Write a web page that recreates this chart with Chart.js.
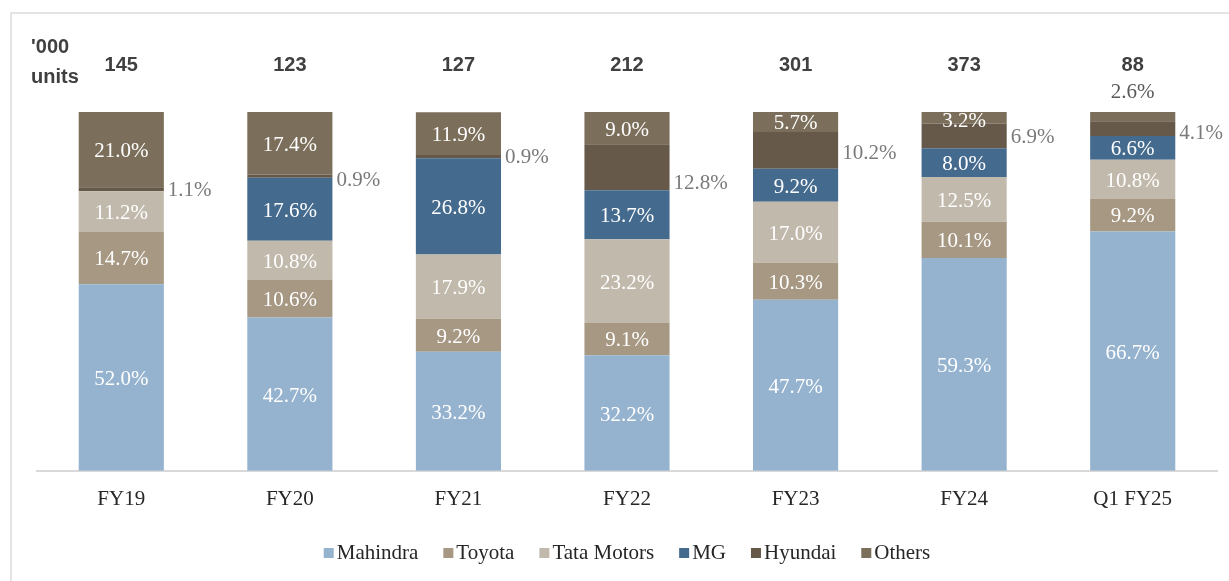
<!DOCTYPE html>
<html>
<head>
<meta charset="utf-8">
<script src="https://cdn.jsdelivr.net/npm/chart.js@4.4.1/dist/chart.umd.min.js"></script>
<style>
    html, body { margin: 0; padding: 0; background: #fff; }
    #wrap { position: relative; width: 1229px; height: 581px; }
    #frame { position: absolute; left: 10px; top: 12px; right: 0; bottom: 0;
             border-top: 2px solid #e4e4e4; border-left: 2px solid #e4e4e4; }
    canvas { position: absolute; left: 0; top: 0; }
</style>
</head>
<body>
<div id="wrap">
    <div id="frame"></div>
    <canvas id="shareChart" width="1229" height="581"></canvas>
</div>
<script>
// ---- Data ----
const periods = ['FY19', 'FY20', 'FY21', 'FY22', 'FY23', 'FY24', 'Q1 FY25'];
const totalUnits = [145, 123, 127, 212, 301, 373, 88];

const mahindra   = [52.0, 42.7, 33.2, 32.2, 47.7, 59.3, 66.7];
const toyota     = [14.7, 10.6,  9.2,  9.1, 10.3, 10.1,  9.2];
const tataMotors = [11.2, 10.8, 17.9, 23.2, 17.0, 12.5, 10.8];
const mg         = [ 0.0, 17.6, 26.8, 13.7,  9.2,  8.0,  6.6];
const hyundai    = [ 1.1,  0.9,  0.9, 12.8, 10.2,  6.9,  4.1];
const others     = [21.0, 17.4, 11.9,  9.0,  5.7,  3.2,  2.6];

const seriesNames = ['Mahindra', 'Toyota', 'Tata Motors', 'MG', 'Hyundai', 'Others'];
const seriesData = [mahindra, toyota, tataMotors, mg, hyundai, others];
const seriesColors = ['#95b3cf', '#a69883', '#c1b9ab', '#446a8e', '#665949', '#7b6e5b'];

// outside (Hyundai) labels were nudged by hand in the original
const hyundaiNudge = [1, 4, 1, 16, 3, 2, 5];

const SERIF = '"Liberation Serif", "DejaVu Serif", serif';
const SANS = '"Liberation Sans", Arial, sans-serif';

// ---- Labels / legend plugin ----
const labelPlugin = {
    id: 'shareLabels',
    afterDatasetsDraw(chart) {
        const ctx = chart.ctx;
        ctx.save();
        chart.data.datasets.forEach((ds, di) => {
            const meta = chart.getDatasetMeta(di);
            meta.data.forEach((bar, i) => {
                const v = ds.data[i];
                if (!v) return;
                const txt = v.toFixed(1) + '%';
                const mid = (bar.y + bar.base) / 2;
                ctx.font = '21px ' + SERIF;
                ctx.textBaseline = 'middle';
                if (ds.label === 'Hyundai') {
                    ctx.fillStyle = '#7a7a7a';
                    ctx.textAlign = 'left';
                    ctx.fillText(txt, bar.x + bar.width / 2 + 4, mid + hyundaiNudge[i]);
                } else if (ds.label === 'Others' && i === periods.length - 1) {
                    ctx.fillStyle = '#595959';
                    ctx.textAlign = 'center';
                    ctx.fillText(txt, bar.x, bar.y - 20);
                } else {
                    ctx.fillStyle = '#ffffff';
                    ctx.textAlign = 'center';
                    ctx.fillText(txt, bar.x, mid + (ds.label === 'Others' && i === 5 ? 4 : 2));
                }
            });
        });

        // totals row
        const xs = chart.scales.x;
        ctx.font = 'bold 20px ' + SANS;
        ctx.fillStyle = '#404040';
        ctx.textAlign = 'center';
        ctx.textBaseline = 'middle';
        totalUnits.forEach((t, i) => {
            ctx.fillText(String(t), xs.getPixelForValue(i), 65);
        });
        ctx.textAlign = 'left';
        ctx.fillText("'000", 31, 47);
        ctx.fillText('units', 31, 77);

        // legend
        ctx.font = '21px ' + SERIF;
        const box = 10, gapText = 3, gapItem = 25;
        const widths = seriesNames.map(n => box + gapText + ctx.measureText(n).width);
        const total = widths.reduce((a, b) => a + b, 0) + gapItem * (widths.length - 1);
        let x = (chart.chartArea.left + chart.chartArea.right) / 2 - total / 2;
        const ly = 553;
        seriesNames.forEach((n, k) => {
            ctx.fillStyle = seriesColors[k];
            ctx.fillRect(x, ly - box / 2, box, box);
            ctx.fillStyle = '#262626';
            ctx.textAlign = 'left';
            ctx.fillText(n, x + box + gapText, ly);
            x += widths[k] + gapItem;
        });
        ctx.restore();
    }
};

document.addEventListener('DOMContentLoaded', () => {
    const ctx = document.getElementById('shareChart').getContext('2d');
    new Chart(ctx, {
        type: 'bar',
        data: {
            labels: periods,
            datasets: seriesNames.map((name, k) => ({
                label: name,
                data: seriesData[k],
                backgroundColor: seriesColors[k],
                borderWidth: 0,
                barPercentage: 0.505,
                categoryPercentage: 1.0
            }))
        },
        options: {
            responsive: false,
            animation: false,
            layout: { padding: { left: 37, right: 12, top: 112, bottom: 61 } },
            plugins: {
                legend: { display: false },
                tooltip: { enabled: false }
            },
            scales: {
                x: {
                    stacked: true,
                    grid: { display: false },
                    border: { display: true, color: '#d9d9d9', width: 2 },
                    ticks: { font: { family: SERIF, size: 21 }, color: '#262626', padding: 8 }
                },
                y: {
                    stacked: true,
                    display: false,
                    min: 0,
                    max: 100
                }
            }
        },
        plugins: [labelPlugin]
    });
});
</script>
</body>
</html>
